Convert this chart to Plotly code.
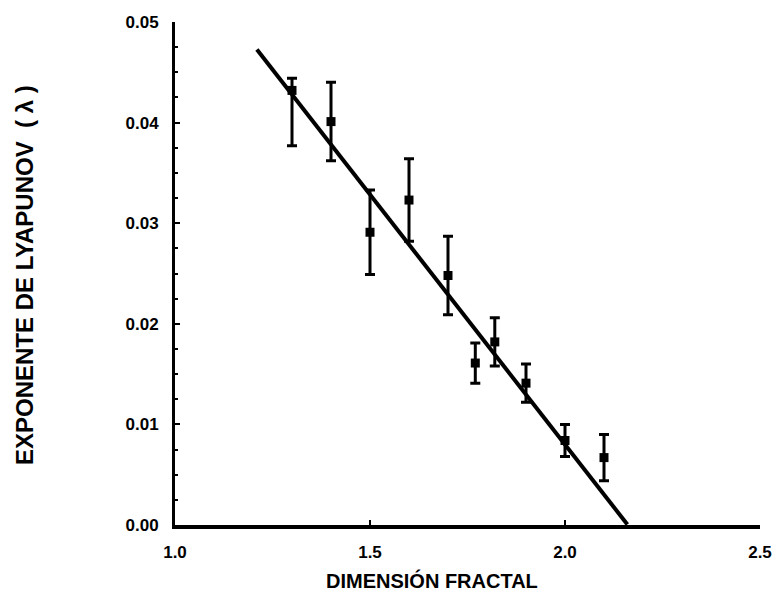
import plotly.graph_objects as go

# Fractal dimension vs. Lyapunov exponent, mean values with error bars
dim_fractal = [1.30, 1.40, 1.50, 1.60, 1.70, 1.77, 1.82, 1.90, 2.00, 2.10]
lyapunov = [0.0432, 0.0401, 0.0291, 0.0323, 0.0248, 0.0161, 0.0182, 0.0141, 0.0084, 0.0067]
err_plus = [0.0012, 0.0039, 0.0042, 0.0041, 0.0039, 0.0020, 0.0024, 0.0019, 0.0016, 0.0023]
err_minus = [0.0055, 0.0039, 0.0042, 0.0041, 0.0039, 0.0020, 0.0024, 0.0019, 0.0016, 0.0023]

# Linear fit: lambda = intercept + slope * D
fit_intercept = 0.1074
fit_slope = -0.0497
fit_x = [1.21, 2.16]
fit_y = [fit_intercept + fit_slope * v for v in fit_x]

x_ticks = [1.0, 1.5, 2.0, 2.5]
x_tick_text = ["1.0", "1.5", "2.0", "2.5"]
y_ticks = [0.00, 0.01, 0.02, 0.03, 0.04, 0.05]
y_tick_text = ["0.00", "0.01", "0.02", "0.03", "0.04", "0.05"]

FONT = "Liberation Sans, Arial, sans-serif"
L, R, T, B = 175, 16, 22, 69
PLOT_W = 776 - L - R
PLOT_H = 594 - T - B

fig = go.Figure()

fig.add_trace(go.Scatter(
    x=fit_x, y=fit_y, mode="lines",
    line=dict(color="black", width=4),
    showlegend=False, hoverinfo="skip",
))

fig.add_trace(go.Scatter(
    x=dim_fractal, y=lyapunov, mode="markers",
    marker=dict(symbol="square", size=9, color="black"),
    error_y=dict(type="data", symmetric=False, array=err_plus, arrayminus=err_minus,
                 color="black", thickness=3, width=5),
    showlegend=False,
))

fig.update_layout(
    width=776, height=594,
    margin=dict(l=L, r=R, t=T, b=B),
    paper_bgcolor="white", plot_bgcolor="white",
    font=dict(family=FONT, color="black", size=17),
    xaxis=dict(
        range=[1.0, 2.5], tickvals=x_ticks, ticktext=x_tick_text,
        showgrid=False, zeroline=False, automargin=False,
        showline=True, linecolor="black", linewidth=4,
        ticks="inside", ticklen=5, tickwidth=2, tickcolor="black",
        tickfont=dict(family=FONT, size=17, color="black", weight="bold"),
        ticklabelstandoff=9, ticklabeloverflow="allow",
    ),
    yaxis=dict(
        range=[0, 0.05], tickvals=y_ticks, ticktext=y_tick_text,
        showgrid=False, zeroline=False, automargin=False,
        showline=True, linecolor="black", linewidth=3,
        ticks="inside", ticklen=5, tickwidth=2, tickcolor="black",
        tickfont=dict(family=FONT, size=17, color="black", weight="bold"),
        ticklabelstandoff=10, ticklabeloverflow="allow",
        minor=dict(dtick=0.0025, ticks="inside", ticklen=3, tickwidth=2, tickcolor="black"),
    ),
    annotations=[
        dict(text="<b>DIMENSIÓN FRACTAL</b>", xref="paper", yref="paper",
             x=(432 - L) / PLOT_W, y=(594 - B - 580) / PLOT_H, xanchor="center", yanchor="middle",
             showarrow=False, font=dict(family=FONT, size=20, color="black")),
        dict(text="<b>EXPONENTE DE LYAPUNOV  ( λ )</b>", xref="paper", yref="paper",
             x=(24 - L) / PLOT_W, y=(594 - B - 275) / PLOT_H, xanchor="center", yanchor="middle",
             textangle=-90,
             showarrow=False, font=dict(family=FONT, size=24, color="black")),
    ],
)

fig.write_html("out.html")
